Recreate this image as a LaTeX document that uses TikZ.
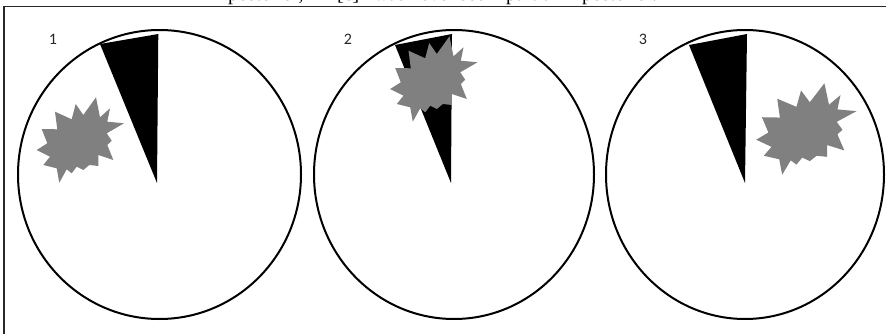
\documentclass[tikz,border=0pt]{standalone}
\usepackage{fontspec}
\setmainfont{Liberation Serif}
\newfontfamily\labelfont{Carlito}
\definecolor{burstgray}{RGB}{128,128,128}
\definecolor{framegray}{RGB}{40,40,40}
\begin{document}
\begin{tikzpicture}[x=1pt,y=-1pt,
  ring/.style={draw=black,line width=2pt,fill=white},
  beam/.style={fill=black},
  framestroke/.style={draw=framegray,line width=1.3pt},
  numlabel/.style={font=\labelfont\fontsize{16}{19}\selectfont,inner sep=0pt,text=black!85},
  captext/.style={font=\fontsize{20}{24}\selectfont,inner sep=0pt,anchor=base west},
  burst/.pic={\fill[burstgray] (16,-42.7) -- (20,-22.7) -- (30,-31.7) -- (27.3,-18.3) -- (44,-16.7) -- (26.7,-6.7) -- (31.7,0.7) -- (27.3,5) -- (33.3,20) -- (18.3,15) -- (18.3,26) -- (9.3,25) -- (3.3,30) -- (-3.3,26.7) -- (-8.3,33.3) -- (-13.3,29.3) -- (-20.7,42.7) -- (-23.3,28.3) -- (-36.7,25) -- (-30,16.7) -- (-43.3,10) -- (-32.7,3.3) -- (-38.3,-11) -- (-22.7,-10.7) -- (-25,-28.3) -- (-8.3,-20.7) -- (-4.3,-36) -- (3.3,-25) -- cycle;}]
\useasboundingbox (0,0) rectangle (886,334);
\fill[white] (0,0) rectangle (886,334);
% clipped caption line from above
\begin{scope}
  \clip (0,0) rectangle (886,6);
  \node[captext] (capA) at (228,0.8) {posterior,};
  \node[captext] (capB) at (337,0.8) {[c]};
  \node[captext] (capC) at (374,0.8) {was never seen};
  \node[captext] (capD) at (506,0.8) {partial};
  \node[captext] (capE) at (582,0.8) {posterior.};
\end{scope}
% frame
\coordinate (fbl) at (4,334);
\coordinate (ftl) at (4,6.5);
\coordinate (ftr) at (886,6.5);
\draw[framestroke] (fbl) -- (ftl) -- (ftr);
% circles
\draw[ring] (159.5,174.5) ellipse [x radius=141.5pt, y radius=144.5pt];
\draw[ring] (454,174.5) ellipse [x radius=140pt, y radius=144.5pt];
\draw[ring] (745,174.5) ellipse [x radius=139pt, y radius=144.5pt];
% wedges
\fill[beam] (157,183) -- (158.3,34) -- (100,44) -- cycle;
\fill[beam] (451,183) -- (452,34) -- (395,45) -- cycle;
\fill[beam] (745,183) -- (747,34) -- (689,45) -- cycle;
% bursts
\pic at (80,140) {burst};
\pic at (433.5,79) {burst};
\pic[xscale=1.15,yscale=1.07] at (806,129) {burst};
% labels
\node[numlabel] (n1) at (53,39) {1};
\node[numlabel] (n2) at (348,39) {2};
\node[numlabel] (n3) at (643,39) {3};
\end{tikzpicture}
\end{document}
